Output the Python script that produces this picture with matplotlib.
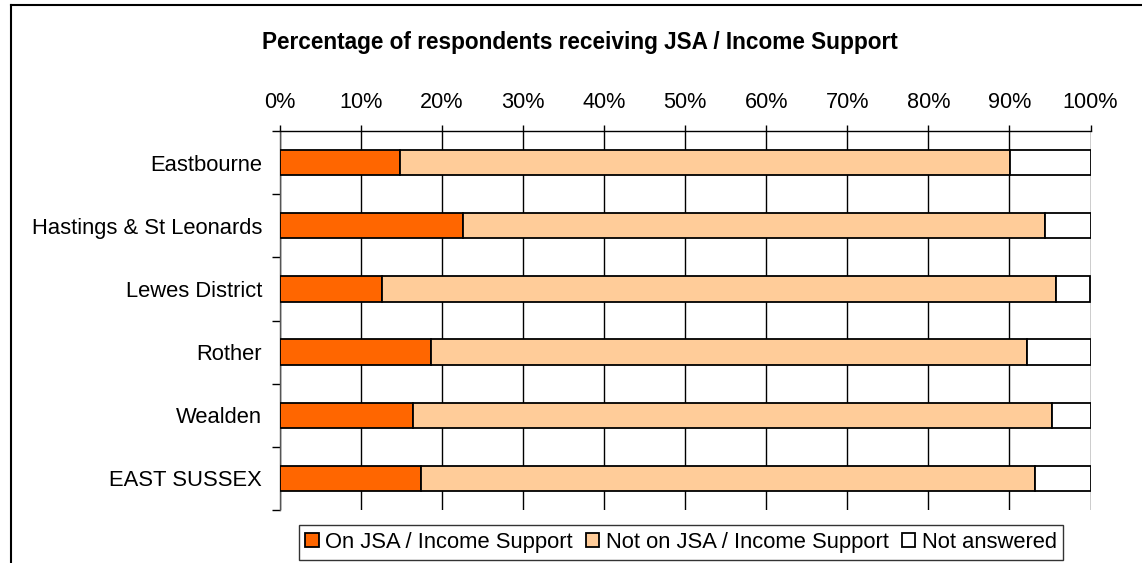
import matplotlib
matplotlib.use("Agg")
import matplotlib.pyplot as plt
from matplotlib.lines import Line2D
import numpy as np

plt.rcParams['font.family'] = ['Liberation Sans', 'DejaVu Sans']

categories = ["Eastbourne", "Hastings & St Leonards", "Lewes District",
              "Rother", "Wealden", "EAST SUSSEX"]
on_jsa = [14.8, 22.6, 12.6, 18.6, 16.4, 17.4]
not_on_jsa = [75.3, 71.8, 83.1, 73.6, 78.9, 75.8]
not_answered = [9.9, 5.6, 4.3, 7.8, 4.7, 6.8]
series_names = ["On JSA / Income Support", "Not on JSA / Income Support", "Not answered"]
colors = ["#FF6600", "#FFCC99", "#FFFFFF"]
xticks = list(range(0, 101, 10))
xtick_labels = [f"{v}%" for v in xticks]
title = "Percentage of respondents receiving JSA / Income Support"

W, H = 1142, 563
fig = plt.figure(figsize=(W / 100, H / 100), dpi=100)
ax = fig.add_axes([280 / W, 1 - 510 / H, 810.5 / W, (510 - 131) / H])

y = np.arange(len(categories))
left = np.zeros(len(categories))
for vals, name, c in zip([on_jsa, not_on_jsa, not_answered], series_names, colors):
    ax.barh(y, vals, left=left, height=0.4, color=c, edgecolor="black",
            linewidth=1.3, label=name, zorder=3)
    left = left + np.array(vals)

ax.set_xlim(0, 100)
ax.set_ylim(len(categories) - 0.5, -0.5)
ax.set_xticks(xticks)
ax.set_xticklabels(xtick_labels, fontsize=15.6)
ax.xaxis.tick_top()
ax.tick_params(axis="x", which="major", length=4.5, width=1, color="black", pad=8.5)
ax.grid(axis="x", color="black", linewidth=1, zorder=1)

ax.set_yticks(y)
ax.set_yticklabels(categories, fontsize=15.8)
ax.tick_params(axis="y", which="major", length=0, pad=13)
ax.set_yticks(np.arange(len(categories) + 1) - 0.5, minor=True)
ax.tick_params(axis="y", which="minor", length=5.5, width=1, color="black")

for s in ["bottom", "right"]:
    ax.spines[s].set_visible(False)
ax.spines["top"].set_linewidth(1)
ax.spines["left"].set_linewidth(1)
ax.spines["left"].set_color("#555555")

fig.text(580 / W, 1 - 42 / H, title, ha="center", va="center",
         fontsize=16.3, fontweight="bold")

# outer chart frame
fig.add_artist(Line2D([11 / W, 11 / W], [0, 1 - 5 / H], color="black", linewidth=1.5,
                      transform=fig.transFigure))
fig.add_artist(Line2D([11 / W, 1], [1 - 5 / H, 1 - 5 / H], color="black", linewidth=1.5,
                      transform=fig.transFigure))

leg = fig.legend(loc="center", bbox_to_anchor=(681 / W, 1 - 542.5 / H), ncol=3,
                 fontsize=15.8, frameon=True, fancybox=False, edgecolor="black",
                 handlelength=0.6, handleheight=0.6, handletextpad=0.3,
                 columnspacing=0.6, borderpad=0.3, borderaxespad=0)
leg.get_frame().set_linewidth(1)

fig.savefig("out.png", dpi=100, facecolor="white")
